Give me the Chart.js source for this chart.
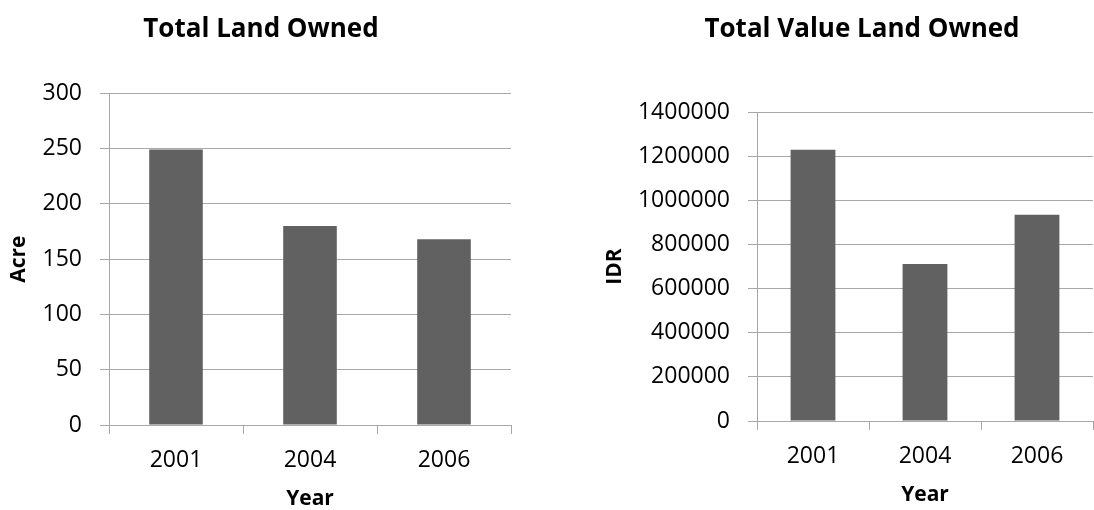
<!DOCTYPE html>
<html lang="en">
<head>
<meta charset="UTF-8" />
<title>Total Land Owned</title>
<script src="https://cdn.jsdelivr.net/npm/chart.js@4.4.0/dist/chart.umd.min.js"></script>
<style>
  body { margin: 0; width: 1094px; height: 510px; overflow: hidden; background: #fff; position: relative; }
  .box { position: absolute; top: 0; height: 510px; }
</style>
</head>
<body>
<div class="box" style="left:0; width:522px;"><canvas id="landChart"></canvas></div>
<div class="box" style="left:600px; width:524px;"><canvas id="valueChart"></canvas></div>
<script>
// values
const years = ['2001', '2004', '2006'];
const landAcre = [249, 180, 168];
const landValueIdr = [1230000, 712000, 935000];
const acreMax = 300, acreStep = 50;
const idrMax = 1400000, idrStep = 200000;

const barColor = '#616161';
const lineColor = '#a8a8a8';

Chart.defaults.font.family = "'Open Sans', sans-serif";
Chart.defaults.color = '#000';

function makeChart(id, values, yMax, yStep, title, yTitle, g) {
  return new Chart(document.getElementById(id), {
    type: 'bar',
    data: {
      labels: years,
      datasets: [{
        data: values,
        backgroundColor: barColor,
        barPercentage: 0.4,
        categoryPercentage: 1.0
      }]
    },
    options: {
      responsive: true,
      maintainAspectRatio: false,
      animation: false,
      devicePixelRatio: 1,
      layout: { padding: 0 },
      plugins: {
        legend: { display: false },
        tooltip: { enabled: false },
        title: {
          display: true,
          text: title,
          color: '#000',
          font: { size: 26, weight: 'bold' },
          padding: { top: 14, bottom: g.titleBottom }
        }
      },
      scales: {
        x: {
          afterFit: s => { s.height = g.xHeight; },
          grid: { drawOnChartArea: false, drawTicks: true, tickLength: 9, color: lineColor, offset: true },
          border: { display: true, color: lineColor },
          ticks: { font: { size: 23 }, padding: 13, color: '#000' },
          title: { display: true, text: 'Year', color: '#000', font: { size: 21, weight: 'bold', lineHeight: 1 }, padding: { top: 0, bottom: g.xTitlePad } }
        },
        y: {
          min: 0,
          max: yMax,
          afterFit: s => { s.width = g.yWidth; },
          grid: { color: lineColor, tickLength: 9 },
          border: { display: true, color: lineColor },
          ticks: { stepSize: yStep, font: { size: 23 }, padding: 18, color: '#000', callback: v => String(v) },
          title: { display: true, text: yTitle, color: '#000', font: { size: 21, weight: 'bold' }, padding: { top: g.yTitlePad, bottom: 0 } }
        },
        // empty strip on the right so the title stays centred on the whole box
        spacer: {
          position: 'right',
          afterFit: s => { s.width = g.rightGap; },
          grid: { display: false },
          border: { display: false },
          ticks: { display: false }
        }
      }
    }
  });
}

makeChart('landChart', landAcre, acreMax, acreStep, 'Total Land Owned', 'Acre',
  { rightGap: 11, titleBottom: 48, xHeight: 85, yWidth: 109, xTitlePad: 0, yTitlePad: 6 });
makeChart('valueChart', landValueIdr, idrMax, idrStep, 'Total Value Land Owned', 'IDR',
  { rightGap: 31, titleBottom: 67, xHeight: 89, yWidth: 157, xTitlePad: 4, yTitlePad: 2 });
</script>
</body>
</html>
